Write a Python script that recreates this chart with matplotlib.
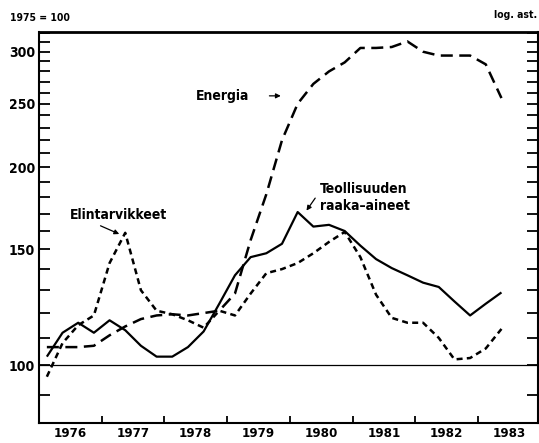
import numpy as np
import matplotlib
matplotlib.use('Agg')
import matplotlib.pyplot as plt
from matplotlib.ticker import FixedLocator, NullFormatter, FixedFormatter

plt.rcParams['font.family'] = ['DejaVu Sans']
plt.rcParams['font.stretch'] = 'condensed'
plt.rcParams['font.weight'] = 'bold'

# quarterly index values, 1975 = 100, 1976Q1 .. 1983Q2
teollisuus = [103, 112, 116, 112, 117, 113, 107, 103, 103, 106.5, 112.5, 124, 137, 146, 148,
              153, 171, 162.5, 163.5, 160, 152, 145, 140.5, 137, 133.5, 131.5, 125, 119, 124, 129]
energia = [106.5, 106.5, 106.5, 107, 111, 114.5, 117.5, 119, 119.5, 119, 120, 121, 128.5, 155, 182,
           220, 250, 268, 280, 289, 304, 304, 305, 311, 300, 296, 296, 296, 287, 255]
elintarvikkeet = [96, 108, 115, 119, 143, 159, 130, 121, 119.5, 117, 114, 121, 119, 128.5, 138,
                  140, 143, 148, 154, 159.5, 146, 128, 118, 116, 116, 110, 102, 102.5, 106, 113.5]
years = [1976, 1977, 1978, 1979, 1980, 1981, 1982, 1983]
y_major = [100, 150, 200, 250, 300]

t = years[0] + (np.arange(len(teollisuus)) + 0.5) / 4

fig = plt.figure(figsize=(5.39, 4.43), dpi=100)
ax = fig.add_axes([0.0724, 0.045, 0.926, 0.883])

ax.plot(t, teollisuus, color='black', lw=1.6, solid_capstyle='butt')
ax.plot(t, energia, color='black', lw=1.8, dashes=(4.8, 2.6))
ax.plot(t, elintarvikkeet, color='black', lw=1.8, dashes=(2.4, 1.7))
ax.axhline(100, color='black', lw=0.9)

ax.set_yscale('log')
ax.set_ylim(81.6, 321.6)
ax.set_xlim(1976, 1983.96)

ax.yaxis.set_major_locator(FixedLocator(y_major))
ax.yaxis.set_major_formatter(FixedFormatter([str(v) for v in y_major]))
ax.yaxis.set_minor_locator(FixedLocator(list(range(90, 321, 10))))
ax.yaxis.set_minor_formatter(NullFormatter())
ax.tick_params(axis='y', which='both', direction='in', left=True, right=True,
               length=8, width=1.3, labelsize=10, pad=3)

ax.xaxis.set_major_locator(FixedLocator(years[1:]))
ax.xaxis.set_major_formatter(NullFormatter())
ax.xaxis.set_minor_locator(FixedLocator([y + 0.5 for y in years]))
ax.xaxis.set_minor_formatter(FixedFormatter([str(y) for y in years]))
ax.tick_params(axis='x', which='major', direction='in', length=5, width=1.3)
ax.tick_params(axis='x', which='minor', length=0, labelsize=9.5, pad=3)

for s in ax.spines.values():
    s.set_linewidth(1.5)
ax.spines['top'].set_linewidth(2)

# annotations
ax.text(1979.36, 257, 'Energia', ha='right', va='center', fontsize=10)
ax.annotate('', xy=(1979.9, 257), xytext=(1979.63, 257),
            arrowprops=dict(arrowstyle='-|>', color='black', lw=0.9, mutation_scale=7))

ax.text(1980.48, 180, 'Teollisuuden\nraaka\u2013aineet', ha='left', va='center',
        fontsize=10, linespacing=1.2)
ax.annotate('', xy=(1980.24, 170.5), xytext=(1980.43, 181),
            arrowprops=dict(arrowstyle='-|>', color='black', lw=0.9, mutation_scale=7))

ax.text(1976.49, 169, 'Elintarvikkeet', ha='left', va='center', fontsize=10)
ax.annotate('', xy=(1977.32, 157.7), xytext=(1976.94, 163.6),
            arrowprops=dict(arrowstyle='-|>', color='black', lw=0.9, mutation_scale=7))

fig.text(0.019, 0.959, '1975 = 100', ha='left', va='center', fontsize=7.5)
fig.text(0.996, 0.966, 'log. ast.', ha='right', va='center', fontsize=7.5)

fig.savefig('out.png', dpi=100)
